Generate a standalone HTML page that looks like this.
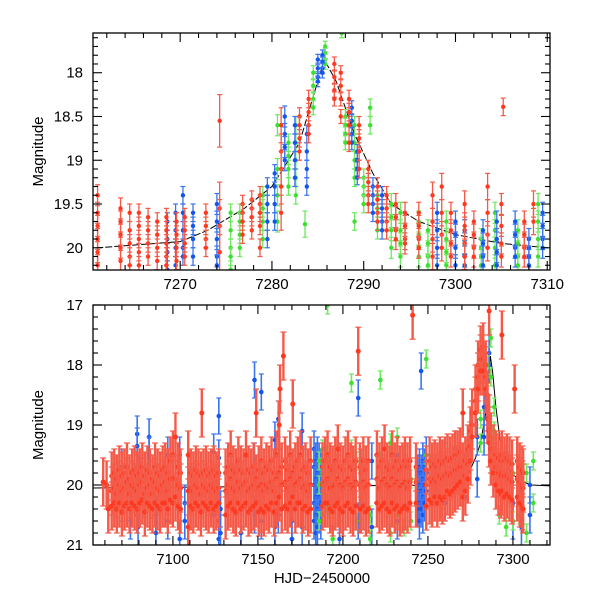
<!DOCTYPE html>
<html><head><meta charset="utf-8"><style>
html,body{margin:0;padding:0;background:#fff;width:600px;height:600px;overflow:hidden}
svg{display:block}
text{font-family:"Liberation Sans",sans-serif;fill:#000}
</style></head><body>
<svg id="chart" width="600" height="600" viewBox="0 0 600 600">
<defs>
<clipPath id="clipTop"><rect x="93" y="33" width="457" height="237"/></clipPath>
<clipPath id="clipBot"><rect x="93" y="305" width="457" height="240"/></clipPath>
</defs>
<g id="topData" clip-path="url(#clipTop)"></g>
<g id="botData" clip-path="url(#clipBot)"></g>
<g id="axes"></g>
</svg>
<script>
// ---------- top panel data (zoom on outburst) ----------
const topRedT=[7261.0,7263.5,7264.5,7265.5,7266.5,7267.5,7268.5,7269.6,7270.5,7272.8,7274.3,7276.8,7277.8,7278.7,7281.0,7283.0,7284.0,7286.8,7287.5,7288.4,7289.5,7290.5,7291.5,7292.5,7293.5,7294.5,7296.0,7297.5,7298.5,7299.5,7301.0,7302.0,7303.5,7305.0,7305.2,7307.5,7308.5];
const topRedM=[[19.4,19.6,19.75,19.9,20.05,20.2],[19.55,19.7,19.85,20.0,20.15],[19.6,19.8,19.95,20.1,20.2],[19.6,19.75,19.9,20.05,20.2],[19.65,19.8,19.95,20.1],[19.7,19.85,20.0,20.15],[19.65,19.8,19.95,20.1,20.2],[19.7,19.85,20.0,20.15],[19.65,19.8,19.95,20.1],[19.6,19.75,19.9,20.0],[18.55,19.55,19.75,20.05],[19.5,19.6,19.7,19.85],[19.45,19.55,19.65,19.8],[19.4,19.5,19.6,19.75,20.0],[18.6,18.9,19.1,19.3,19.6],[18.5,18.6,18.75,18.9],[18.3,18.45,18.6,18.7],[17.9,18.05,18.2,18.3],[18.0,18.15,18.3,18.5],[18.3,18.45,18.6,18.8],[18.6,18.75,18.9,19.1],[19.1,19.25,19.4,19.5],[19.3,19.45,19.6,19.7],[19.4,19.55,19.7,19.8],[19.5,19.65,19.8,19.9],[19.6,19.75,19.9,19.95],[19.6,19.75,19.9,20.0],[19.4,19.7,19.9,20.1],[19.3,19.6,19.85,20.0],[19.6,19.8,19.95,20.1],[19.5,19.75,19.95,20.1],[19.7,19.85,20.0,20.1],[19.3,19.6,19.85,20.0],[19.5,19.75,19.95,20.1],[18.39],[19.7,19.85,20.0,20.1],[19.5,19.7]];
const topRedE=[0.12,0.12,0.1,0.1,0.1,0.1,0.1,0.1,0.1,0.1,0.3,0.1,0.1,0.1,0.2,0.1,0.1,0.08,0.08,0.1,0.1,0.1,0.1,0.1,0.12,0.12,0.12,0.15,0.15,0.12,0.15,0.12,0.15,0.12,0.1,0.12,0.15];
const topBlueT=[7268.6,7269.5,7270.3,7271.4,7274.0,7279.5,7280.3,7281.4,7282.5,7283.8,7285.0,7285.5,7288.7,7289.3,7291.0,7292.0,7298.0,7300.0,7301.0,7303.0,7304.5,7306.5,7308.0,7309.5];
const topBlueM=[[19.7,19.9,20.05,20.25],[19.6,19.8,20.0,20.2],[19.4,19.6,19.8,20.0,20.1],[19.6,19.75,19.9,20.1],[19.5,19.7,19.9,20.1,20.2],[19.3,19.5,19.7,19.9],[19.15,19.3,19.5,19.7],[18.5,18.7,18.85,19.0],[18.6,18.8,19.0,19.2],[18.7,18.9,19.1,19.3],[17.85,17.95,18.05,18.1],[17.8,17.88,17.95,18.0],[18.4,18.55,18.7,18.8],[18.9,19.0,19.1,19.2],[19.3,19.4,19.5,19.6],[19.4,19.55,19.7,19.8],[19.6,19.8,20.0,20.2],[19.7,19.85,20.0,20.2],[19.8,19.95,20.1,20.2],[19.8,19.95,20.1,20.2],[19.7,19.9,20.05,20.2],[19.7,19.85,20.0,20.1],[19.9,20.0,20.1,20.2],[19.6,19.75,19.9,20.0]];
const topBlueE=[0.1,0.1,0.1,0.1,0.12,0.1,0.1,0.12,0.1,0.1,0.06,0.06,0.08,0.08,0.1,0.1,0.12,0.12,0.12,0.12,0.12,0.12,0.12,0.12];
const topGreenT=[7275.5,7276.5,7279.0,7280.6,7281.8,7282.6,7283.6,7284.5,7285.8,7287.6,7288.0,7289.0,7290.0,7290.7,7291.5,7293.0,7294.0,7296.0,7297.0,7299.0,7301.0,7302.8,7304.3,7306.8,7309.0];
const topGreenM=[[19.6,19.8,20.0,20.1,20.25],[19.6,19.7,19.85,20.0],[19.4,19.55,19.7,19.9],[18.6,19.1,19.4,19.7],[18.8,18.95,19.1,19.3],[18.6,18.8,19.0,19.2,19.4],[19.73],[18.0,18.15,18.3,18.4],[17.7,17.78,17.85,17.9],[17.55],[18.5,18.6,18.7,18.8],[18.6,18.8,19.0,19.2,19.7],[19.2,19.3,19.4,19.5],[18.4,18.6],[19.4,19.55,19.7,19.8],[19.5,19.65,19.8,20.0],[19.6,19.8,19.95,20.1],[19.7,19.85,20.0,20.1],[19.8,19.95,20.1,20.2],[19.7,19.9,20.05,20.2],[19.8,19.95,20.1,20.2],[19.9,20.0,20.1,20.2],[19.6,19.8,20.0,20.2],[19.8,19.95,20.1,20.2],[19.5,19.7,19.9,20.1]];
const topGreenE=[0.1,0.1,0.1,0.12,0.1,0.1,0.15,0.08,0.06,0.05,0.08,0.1,0.1,0.1,0.1,0.12,0.12,0.12,0.12,0.12,0.12,0.12,0.12,0.12,0.12];
const modelT=[7050,7261,7270,7273,7277,7280,7283,7284.7,7285.7,7287,7289,7291,7293,7296,7300,7305,7310,7325];
const modelM=[20.05,20.0,19.93,19.8,19.55,19.3,18.8,18.2,17.85,18.1,18.7,19.15,19.5,19.7,19.85,19.95,20.0,20.02];
// ---------- bottom panel data (full season) ----------
const botRedT=[7059,7061,7062,7064,7065.5,7067,7068.5,7070,7071.5,7073,7074.5,7076,7077.5,7079,7080.5,7082,7083.5,7085,7086.5,7088,7089.5,7091,7092.5,7094,7095.5,7097,7098.5,7100,7101.5,7103,7104.5,7109,7110.5,7112,7113.5,7115,7116.5,7117,7118,7119.5,7121,7122.5,7124,7125.5,7127,7131,7132.5,7134,7135.5,7137,7138.5,7140,7141.5,7143,7144.5,7146,7147.5,7149,7150.5,7152,7153.5,7155,7156.5,7158,7159.5,7161,7162.5,7163,7164,7165,7166,7167.5,7169,7170.5,7172,7173.5,7175,7176.5,7178,7179.5,7181,7188,7189.5,7191,7192.5,7194,7195.5,7197,7198.5,7200,7201.5,7203,7204.5,7206,7207.5,7209,7210,7210.5,7212,7213.5,7215,7220,7221.5,7223,7224.5,7226,7227.5,7229,7230.5,7232,7233.5,7235,7236.5,7238,7239.5,7241,7243,7249,7251,7252.5,7254,7255.5,7257,7258.5,7260,7261.5,7263,7264.5,7266,7267.5,7269,7270.5,7272,7273.5,7275,7276,7278,7279.5,7281,7282.5,7284,7285,7286,7287,7288.5,7290,7291.5,7293,7293.5,7295,7296.5,7298,7299.5,7301,7302.5,7304,7305.5,7306,7307,7308.5,7310,7311.5];
const botRedM=[[19.95],[20.0],[20.4],[19.85,20.1,20.35],[19.8,20.05,20.3],[19.9,20.15,20.4],[19.75,20.0,20.3],[19.85,20.1,20.45],[19.8,20.05,20.35],[19.7,19.95,20.3],[19.9,20.15,20.4],[19.8,20.0,20.3],[19.75,20.05,20.35],[19.85,20.1,20.4],[19.8,20.0,20.3],[19.7,19.95,20.25],[19.85,20.15,20.45],[19.75,20.05,20.3],[19.8,20.0,20.35],[19.9,20.15,20.4],[19.7,19.95,20.3],[19.8,20.05,20.35],[19.85,20.1,20.4],[19.75,20.0,20.3],[19.7,19.95,20.3],[19.8,20.1,20.4],[19.6,19.9,20.25],[19.5,19.9,20.3],[19.2,19.9,20.2],[19.7,20.0,20.35],[19.8,20.05,20.4],[19.5,20.1,20.7],[19.8,20.05,20.35],[19.85,20.1,20.4],[19.75,20.0,20.3],[19.8,20.05,20.35],[19.85,20.15,20.45],[18.8],[19.8,20.0,20.3],[19.75,20.05,20.35],[19.85,20.1,20.4],[19.8,20.0,20.3],[19.75,20.05,20.4],[19.85,20.1,20.35],[19.8,20.05,20.3],[19.8,20.1,20.5],[19.7,20.0,20.35],[19.5,19.9,20.3],[19.75,20.05,20.4],[19.8,20.1,20.45],[19.6,19.95,20.3],[19.75,20.05,20.4],[19.8,20.0,20.35],[19.5,19.95,20.3],[19.75,20.1,20.45],[19.8,20.05,20.4],[19.7,20.0,20.35],[18.8,19.9,20.3],[19.75,20.05,20.45],[19.6,20.0,20.4],[19.8,20.1,20.45],[19.7,20.0,20.35],[19.75,20.05,20.4],[19.6,19.95,20.3],[19.8,20.1,20.45],[19.5,19.9,20.3],[19.0,19.8,20.2],[18.4],[19.7,20.0,20.4],[17.85],[19.6,19.95,20.35],[19.75,20.05,20.4],[19.5,19.9,20.3],[18.65,19.8,20.2],[19.7,20.0,20.4],[19.6,19.95,20.3],[19.5,19.9,20.3],[19.75,20.05,20.4],[19.7,20.0,20.35],[19.8,20.1,20.45],[19.6,20.0,20.4],[19.7,20.0,20.35],[19.6,19.95,20.3],[19.5,19.9,20.3],[19.7,20.05,20.4],[19.75,20.05,20.45],[19.6,20.0,20.35],[19.4,19.9,20.3],[19.7,20.0,20.4],[19.75,20.05,20.45],[19.6,19.95,20.35],[19.5,19.9,20.3],[19.7,20.0,20.4],[19.75,20.05,20.45],[19.6,19.95,20.35],[17.77],[19.7,20.0,20.4],[19.8,20.05,20.4],[19.6,19.95,20.35],[19.75,20.05,20.45],[19.6,20.0,20.4],[19.5,19.9,20.3],[19.7,20.05,20.4],[19.6,19.95,20.35],[19.4,19.9,20.3],[19.7,20.0,20.4],[19.75,20.05,20.45],[19.5,19.9,20.3],[19.7,20.0,20.4],[19.6,19.95,20.35],[19.75,20.05,20.45],[19.7,20.0,20.4],[19.6,19.95,20.35],[19.7,20.05,20.4],[19.6,19.95,20.3],[17.17],[19.7,19.95,20.3],[19.75,20.0,20.35],[19.6,19.9,20.25],[19.7,19.95,20.3],[19.65,19.9,20.2],[19.7,19.95,20.3],[19.6,19.85,20.2],[19.65,19.9,20.25],[19.6,19.85,20.2],[19.55,19.8,20.1],[19.6,19.85,20.15],[19.55,19.8,20.1],[19.5,19.75,20.05],[19.5,19.75,20.0],[19.45,19.7,19.95],[18.8,19.7,19.95,20.2],[19.6,19.85,20.1],[19.4,19.65,19.9],[19.1,19.35,19.6],[18.8,19.0,19.2],[18.4,18.6,18.8],[18.0,18.2,18.4],[17.75,17.9,18.1],[17.7,17.9,18.1],[18.0,18.2,18.4],[18.5,18.7,18.9],[17.1,18.9,19.1,19.3],[19.2,19.4,19.6],[19.4,19.6,19.8],[19.5,19.7,20.0],[19.55,19.8,20.1],[19.6,19.85,20.15],[17.5,19.5,19.8,20.1],[19.6,19.85,20.2],[19.55,19.85,20.15],[19.6,19.9,20.2],[19.65,19.95,20.25],[18.4],[19.6,19.9,20.2],[19.7,19.95,20.3],[19.75,20.0,20.35],[19.8,20.05,20.4]];
const botBlueT=[7070,7075,7079,7079.5,7086,7090,7097,7104,7107,7124,7127,7128,7140,7148,7152,7160,7162,7170,7176,7183,7184,7185,7186,7187,7198,7209,7217,7232,7244,7245,7246,7247,7248,7249,7260,7266,7272,7279,7283,7286,7300,7305,7310];
const botBlueM=[[19.7,20.3],[20.4,20.6],[19.15,19.35,20.5],[19.8,20.7],[19.2,19.5],[20.5,20.8],[19.5,20.6],[19.5,20.9],[20.3,20.6],[19.45,20.5],[18.85,19.55,20.6,20.9],[20.4,20.8],[20.4,20.8],[18.25,19.6,20.5],[18.45,20.6],[19.25,20.7],[18.9,20.5],[20.6,20.9],[19.1,20.7],[19.4,19.7,20.0,20.3,20.6],[19.6,19.9,20.2,20.5,20.8],[19.5,19.8,20.1,20.4,20.7],[19.6,19.9,20.2,20.5],[19.7,20.0,20.3,20.6],[20.5,20.9],[18.55,20.6],[19.6,20.7],[19.5,20.6],[19.8,20.1,20.4],[19.7,20.0,20.3,20.6],[18.1,19.8,20.1,20.4],[19.6,19.9,20.2,20.5],[19.7,20.0,20.3],[19.5,19.8,20.1],[19.6,20.3],[19.4,19.8],[19.5,20.2],[19.2,19.9],[18.7,19.2],[17.8,18.0],[20.3,20.6],[20.4,20.7],[20.0,20.5]];
const botGreenT=[7186,7188,7190,7191,7192,7194,7205,7208,7216,7222,7228,7232,7236,7240,7249,7258,7281,7285,7287,7289,7292,7296,7300,7304,7308,7312];
const botGreenM=[[19.6,20.0,20.6],[19.4,19.8,20.5],[19.5,20.3],[17.0,19.6],[19.8,20.4],[20.7,20.9],[18.3,19.4],[19.6,20.6],[20.5,20.9],[18.25,19.6],[19.3,20.8],[19.2,20.5],[19.5,20.7],[19.9,20.6],[17.9,19.5],[19.4,20.4],[18.9,19.3],[18.0,18.5],[17.55,18.2],[18.7,19.1],[19.6,20.5],[19.5,20.7],[19.8,20.6],[19.7,20.5],[19.8,20.8],[19.6,20.3]];
// ---------- tick labels ----------
const topXTicks=[7270,7280,7290,7300,7310];
const topYTicks=[18,18.5,19,19.5,20];
const botXTicks=[7100,7150,7200,7250,7300];
const botYTicks=[17,18,19,20,21];

const NS='http://www.w3.org/2000/svg';
function mk(tag,attrs,parent){const e=document.createElementNS(NS,tag);for(const k in attrs)e.setAttribute(k,attrs[k]);parent.appendChild(e);return e;}
const TOP={x0:93,x1:550,y0:33,y1:270,t0:7260.5,t1:7310.3,m0:17.546,m1:20.254};
const BOT={x0:93,x1:550,y0:305,y1:545,t0:7053,t1:7321.8,m0:17,m1:21};
function xs(P,t){return P.x0+(t-P.t0)/(P.t1-P.t0)*(P.x1-P.x0);}
function ys(P,m){return P.y0+(m-P.m0)/(P.m1-P.m0)*(P.y1-P.y0);}
const COL={red:['#f55a48','#ff3820'],blue:['#3b74f0','#1455ee'],green:['#6de860','#3ce030']};

function drawSeries(P,g,T,M,E,col,r,cap,sw){
  const n=Math.min(T.length,M.length);
  for(let i=0;i<n;i++){
    const x=xs(P,T[i]);const e=Array.isArray(E)?(E[i]||0.1):E;
    const ms=Array.isArray(M[i])?M[i]:[M[i]];
    ms.forEach(m=>{
      const yt=ys(P,m-e),yb=ys(P,m+e),y=ys(P,m);
      const grp=mk('g',{},g);
      
      
      mk('line',{x1:x,x2:x,y1:yt,y2:yb,stroke:COL[col][0],'stroke-width':sw},grp);
      mk('line',{x1:x-cap,x2:x+cap,y1:yt,y2:yt,stroke:COL[col][0],'stroke-width':1.2},grp);
      mk('line',{x1:x-cap,x2:x+cap,y1:yb,y2:yb,stroke:COL[col][0],'stroke-width':1.2},grp);
      mk('circle',{cx:x,cy:y,r:r,fill:COL[col][1]},grp);
    });
  }
}
function drawModel(P,g,dash,shift){
  let d='';
  for(let i=0;i<modelT.length;i++){d+=(i?'L':'M')+xs(P,modelT[i]+shift).toFixed(1)+' '+ys(P,modelM[i]).toFixed(1);}
  const p=mk('path',{d:d,fill:'none',stroke:'#000','stroke-width':1,'stroke-dasharray':dash},g);
  
  
}
const gT=document.getElementById('topData');
drawModel(TOP,gT,'7 2',0);
drawSeries(TOP,gT,topGreenT,topGreenM,topGreenE,'green',2.2,2.5,1.3);
drawSeries(TOP,gT,topBlueT,topBlueM,topBlueE,'blue',2.2,2.5,1.3);
drawSeries(TOP,gT,topRedT,topRedM,topRedE,'red',2.2,2.5,1.3);
const gB=document.getElementById('botData');
drawModel(BOT,gB,'none',1);
drawSeries(BOT,gB,botBlueT,botBlueM,0.3,'blue',2.3,2.5,1.6);
drawSeries(BOT,gB,botGreenT,botGreenM,0.15,'green',2.3,2.5,1.6);
drawSeries(BOT,gB,botRedT,botRedM,0.4,'red',2.5,3,2.4);

const ax=document.getElementById('axes');
function frame(P,name,xTicks,yTicks,xMinor,yMinor,yMajorStep,xMajorStep){
  const f=mk('rect',{x:P.x0,y:P.y0,width:P.x1-P.x0,height:P.y1-P.y0,fill:'none',stroke:'#000','stroke-width':1.3},ax);
  
  
  const kx0=Math.ceil(P.t0/xMinor),kx1=Math.floor(P.t1/xMinor);
  for(let k=kx0;k<=kx1;k++){
    const t=k*xMinor;const x=xs(P,t);const major=(t%xMajorStep)===0;const L=major?9:5;
    mk('line',{x1:x,x2:x,y1:P.y1,y2:P.y1-L,stroke:'#000','stroke-width':1.1},ax);
    mk('line',{x1:x,x2:x,y1:P.y0,y2:P.y0+L,stroke:'#000','stroke-width':1.1},ax);
  }
  const ky0=Math.ceil(P.m0/yMinor-1e-6),ky1=Math.floor(P.m1/yMinor+1e-6);
  for(let k=ky0;k<=ky1;k++){
    const m=k*yMinor;const y=ys(P,m);const q=m/yMajorStep;const major=Math.abs(q-Math.round(q))<1e-6;const L=major?9:5;
    mk('line',{x1:P.x0,x2:P.x0+L,y1:y,y2:y,stroke:'#000','stroke-width':1.1},ax);
    mk('line',{x1:P.x1,x2:P.x1-L,y1:y,y2:y,stroke:'#000','stroke-width':1.1},ax);
  }
  xTicks.forEach(t=>{const tx=mk('text',{x:xs(P,t),y:P.y1+19,'text-anchor':'middle','font-size':15},ax);tx.textContent=String(t);
    
    });
  yTicks.forEach(m=>{const tx=mk('text',{x:P.x0-10,y:ys(P,m)+5,'text-anchor':'end','font-size':15},ax);tx.textContent=String(m);
    
    });
  const yl=mk('text',{x:0,y:0,'text-anchor':'middle','font-size':15,transform:'translate('+(P.x0-50)+','+((P.y0+P.y1)/2)+') rotate(-90)'},ax);
  yl.textContent='Magnitude';
  
  
}
frame(TOP,'top-panel',topXTicks,topYTicks,2,0.1,0.5,10);
frame(BOT,'bottom-panel',botXTicks,botYTicks,10,0.2,1,50);
const xl=mk('text',{x:322,y:583,'text-anchor':'middle','font-size':15},ax);
xl.textContent='HJD\u22122450000';


</script>
</body></html>
